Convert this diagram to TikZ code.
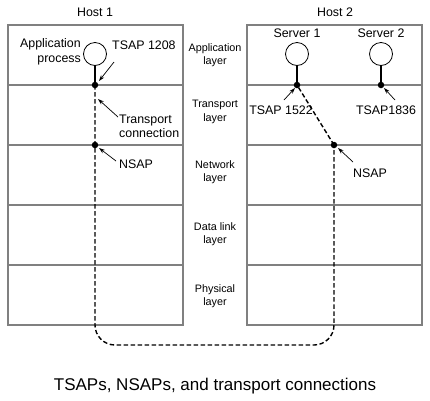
\documentclass[tikz,border=0pt]{standalone}
\usepackage{fontspec}
\setmainfont{Liberation Sans}
\usetikzlibrary{arrows.meta}
\begin{document}
\begin{tikzpicture}[x=1pt,y=-1pt,
  layerbox/.style={draw=black!50,line width=1.3pt},
  proc/.style={circle,draw=black,line width=0.8pt,minimum size=23pt,inner sep=0pt},
  sap/.style={circle,fill=black,minimum size=6.5pt,inner sep=0pt},
  lbl/.style={font=\fontsize{12.4}{14.5}\selectfont,inner sep=0pt},
  mid/.style={font=\fontsize{10.8}{13.5}\selectfont,align=center,inner sep=0pt},
  ptr/.style={-{Stealth[length=6pt,width=4pt]},line width=0.7pt},
  conn/.style={dashed,dash pattern=on 4.5pt off 2.5pt,line width=1.4pt},
  stem/.style={line width=1.8pt}]
\useasboundingbox (0,0) rectangle (430,400);
% boxes
\draw[layerbox] (8,25) rectangle (183,325);
\draw[layerbox] (247,25) rectangle (422,325);
\foreach \y in {85,145,205,265}{
  \draw[layerbox] (8,\y) -- (183,\y);
  \draw[layerbox] (247,\y) -- (422,\y);
}
% titles
\node[lbl] (h1) at (95,12) {Host 1};
\node[lbl] (h2) at (335,12) {Host 2};
% middle labels
\node[mid] (la) at (215,55) {Application\\layer};
\node[mid] (lt) at (215,112) {Transport\\layer};
\node[mid] (ln) at (215,172) {Network\\layer};
\node[mid] (ld) at (215,234) {Data link\\layer};
\node[mid] (lp) at (215,296) {Physical\\layer};
% processes
\node[proc] (p1) at (95,54) {};
\node[proc] (s1) at (297,54) {};
\node[proc] (s2) at (381,54) {};
\node[sap] (t1) at (95,85) {};
\node[sap] (n1) at (95,145) {};
\node[sap] (t2) at (297,85) {};
\node[sap] (t3) at (381,85) {};
\node[sap] (n2) at (334,145) {};
\draw[stem] (p1.south) -- (t1.center);
\draw[stem] (s1.south) -- (t2.center);
\draw[stem] (s2.south) -- (t3.center);
% connection
\draw[conn,rounded corners=20pt] (t1.center) -- (95,345) -- (334,345) -- (n2.center);
\draw[conn] (n2.center) -- (t2.center);
% labels
\node[lbl,align=right,anchor=east] (ap) at (81,52) {Application\\process};
\node[lbl,anchor=west] (ts1) at (112,45) {TSAP 1208};
\node[lbl,align=left,anchor=west] (tc) at (119,126.5) {Transport\\connection};
\node[lbl,anchor=west] (ns1) at (119,164) {NSAP};
\node[lbl] (ts2) at (281,110) {TSAP 1522};
\node[lbl] (ts3) at (386,110) {TSAP1836};
\node[lbl,anchor=west] (ns2) at (353,173) {NSAP};
\node[lbl] (sv1) at (297,33) {Server 1};
\node[lbl] (sv2) at (381,33) {Server 2};
% pointers
\coordinate (a1) at (114,62);
\coordinate (a2) at (118,117);
\coordinate (a3) at (116,161);
\coordinate (a4) at (284,100);
\coordinate (a5) at (395,100);
\coordinate (a6) at (353,162);
\draw[ptr] (a1) -- (99,81);
\draw[ptr] (a2) -- (98,99);
\draw[ptr] (a3) -- (99,148);
\draw[ptr] (a4) -- (295,88);
\draw[ptr] (a5) -- (384,88);
\draw[ptr] (a6) -- (338,148);
% caption
\node[font=\fontsize{17}{20}\selectfont,inner sep=0pt] (cap) at (215,386) {TSAPs, NSAPs, and transport connections};
\end{tikzpicture}
\end{document}
